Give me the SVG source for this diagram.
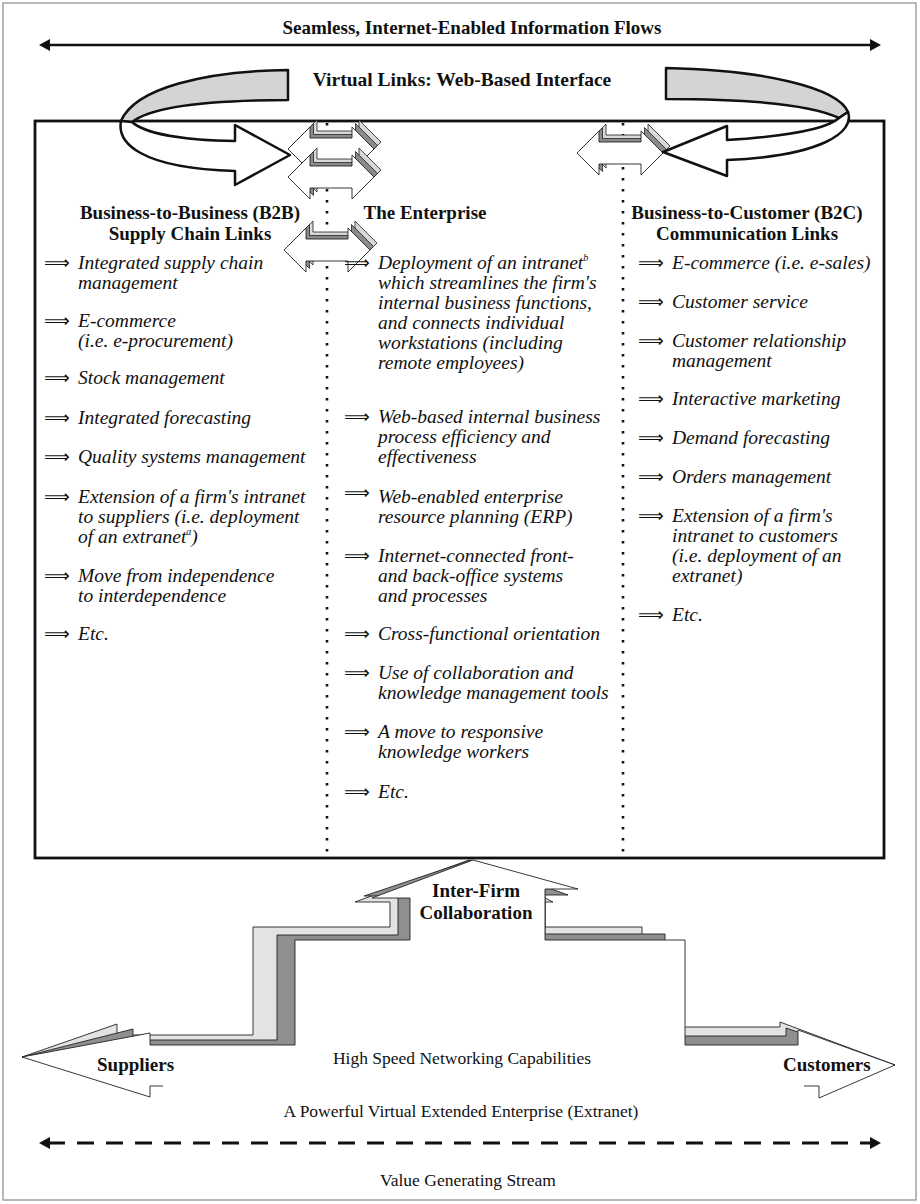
<svg xmlns="http://www.w3.org/2000/svg" width="920" height="1204" viewBox="0 0 920 1204">
<style>
  .t { font-family: "Liberation Serif", "Times New Roman", serif; fill: #111; }
  .b { font-weight: bold; font-size: 19px; }
  .i { font-style: italic; font-size: 19.5px; }
  .r { font-size: 17.5px; }
  .c { text-anchor: middle; }
  .ar { font-family: "DejaVu Sans", sans-serif; font-size: 18px; fill: #111; }
  .sup { font-size: 10px; }
  .rib { stroke: #111; stroke-width: 2.5; stroke-linejoin: round; }
  .dot { stroke: #111; stroke-width: 2.6; stroke-dasharray: 2.6 8.4; fill: none; }
  .lay { stroke: #222; stroke-width: 0.9; stroke-linejoin: miter; }
</style>
<defs>
  <!-- flat double-headed link arrow, centred on the origin -->
  <path id="dbl" d="M-43,0 L-21,-22 L-21,-11 L21,-11 L21,-22 L43,0 L21,22 L21,11 L-21,11 L-21,22 Z"/>
  <!-- the same arrow with two extruded layers behind it -->
  <g id="dbl3">
    <use href="#dbl" x="7" y="-7" fill="#d8d8d8" stroke="#222" stroke-width="0.8"/>
    <use href="#dbl" x="3.5" y="-3.5" fill="#8a8a8a" stroke="#222" stroke-width="0.8"/>
    <use href="#dbl" fill="#fff" stroke="#222" stroke-width="0.9"/>
  </g>
  <marker id="tri" viewBox="0 0 12 12" refX="2" refY="6" markerWidth="12" markerHeight="12" orient="auto-start-reverse" markerUnits="userSpaceOnUse">
    <path d="M0,0 L11,6 L0,12 Z" fill="#111"/>
  </marker>
</defs>

<rect width="920" height="1204" fill="#fff"/>
<rect id="frame" x="3" y="3" width="913" height="1197" fill="none" stroke="#8a8a8a" stroke-width="1.2"/>

<!-- headings above the enterprise box -->
<g id="flows-title">
  <text class="t b c" x="472" y="34">Seamless, Internet-Enabled Information Flows</text>
</g>
<g id="virtual-links-title">
  <text class="t b c" x="462" y="86" style="font-size:19.5px">Virtual Links: Web-Based Interface</text>
</g>

<!-- enterprise box -->
<g id="enterprise-box">
  <rect x="35" y="121" width="849" height="737" fill="none" stroke="#111" stroke-width="2.8"/>
</g>

<g id="connectors">
  <!-- information flow arrow -->
  <line x1="48" y1="45" x2="872" y2="45" stroke="#111" stroke-width="2.5" marker-start="url(#tri)" marker-end="url(#tri)"/>
  <!-- column separators -->
  <line class="dot" x1="327" y1="123" x2="327" y2="856"/>
  <line class="dot" x1="623" y1="123" x2="623" y2="856"/>
  <!-- value stream arrow -->
  <line x1="48" y1="1143" x2="872" y2="1143" stroke="#111" stroke-width="3" stroke-dasharray="17 12" marker-start="url(#tri)" marker-end="url(#tri)"/>
</g>

<!-- small link arrows on the separators -->
<g id="link-arrows">
  <use href="#dbl3" transform="translate(331,149)"/>
  <use href="#dbl3" transform="translate(331,177)"/>
  <use href="#dbl3" transform="translate(327,250)"/>
  <use href="#dbl3" transform="translate(620,153)"/>
</g>

<!-- curved ribbon arrows of the web-based interface -->
<g id="ribbon-left">
  <path class="rib" fill="#d4d4d4" d="M288,70 C205,71 135,88 121,121 L132,122 C152,106 210,100 288,100 Z"/>
  <path class="rib" fill="#fff" d="M121,121 C117,142 138,168 235,171 L235,185 L290,155 L235,125 L235,141 C185,140 145,134 132,122 Z"/>
</g>
<g id="ribbon-right">
  <path class="rib" fill="#d4d4d4" d="M666,68 C765,70 838,88 848,112 L839,118 C810,104 750,99 666,99 Z"/>
  <path class="rib" fill="#fff" d="M848,112 C855,132 822,156 727,160 L727,176 L663,152 L727,126 L727,140 C790,136 828,128 839,118 Z"/>
</g>

<!-- column headings -->
<g id="b2b-heading">
  <text class="t b c" x="190" y="219">Business-to-Business (B2B)</text>
  <text class="t b c" x="190" y="240">Supply Chain Links</text>
</g>
<g id="enterprise-heading">
  <text class="t b c" x="425" y="219">The Enterprise</text>
</g>
<g id="b2c-heading">
  <text class="t b c" x="747" y="219">Business-to-Customer (B2C)</text>
  <text class="t b c" x="747" y="240">Communication Links</text>
</g>

<!-- B2B items -->
<g id="b2b-items">
  <text class="ar" x="44" y="269">⟹</text>
  <text class="t i" x="78" y="269">Integrated supply chain</text>
  <text class="t i" x="78" y="289">management</text>
  <text class="ar" x="44" y="327">⟹</text>
  <text class="t i" x="78" y="327">E-commerce</text>
  <text class="t i" x="78" y="347">(i.e. e-procurement)</text>
  <text class="ar" x="44" y="384">⟹</text>
  <text class="t i" x="78" y="384">Stock management</text>
  <text class="ar" x="44" y="424">⟹</text>
  <text class="t i" x="78" y="424">Integrated forecasting</text>
  <text class="ar" x="44" y="463">⟹</text>
  <text class="t i" x="78" y="463">Quality systems management</text>
  <text class="ar" x="44" y="503">⟹</text>
  <text class="t i" x="78" y="503">Extension of a firm's intranet</text>
  <text class="t i" x="78" y="523">to suppliers (i.e. deployment</text>
  <text class="t i" x="78" y="543">of an extranet<tspan class="sup" dy="-8">a</tspan><tspan dy="8">)</tspan></text>
  <text class="ar" x="44" y="582">⟹</text>
  <text class="t i" x="78" y="582">Move from independence</text>
  <text class="t i" x="78" y="602">to interdependence</text>
  <text class="ar" x="44" y="640">⟹</text>
  <text class="t i" x="78" y="640">Etc.</text>
</g>

<!-- enterprise items -->
<g id="enterprise-items">
  <text class="ar" x="344" y="269">⟹</text>
  <text class="t i" x="378" y="269">Deployment of an intranet<tspan class="sup" dy="-8">b</tspan></text>
  <text class="t i" x="378" y="289">which streamlines the firm's</text>
  <text class="t i" x="378" y="309">internal business functions,</text>
  <text class="t i" x="378" y="329">and connects individual</text>
  <text class="t i" x="378" y="349">workstations (including</text>
  <text class="t i" x="378" y="369">remote employees)</text>
  <text class="ar" x="344" y="423">⟹</text>
  <text class="t i" x="378" y="423">Web-based internal business</text>
  <text class="t i" x="378" y="443">process efficiency and</text>
  <text class="t i" x="378" y="463">effectiveness</text>
  <text class="ar" x="344" y="499">⟹</text>
  <text class="t i" x="378" y="503">Web-enabled enterprise</text>
  <text class="t i" x="378" y="523">resource planning (ERP)</text>
  <text class="ar" x="344" y="562">⟹</text>
  <text class="t i" x="378" y="562">Internet-connected front-</text>
  <text class="t i" x="378" y="582">and back-office systems</text>
  <text class="t i" x="378" y="602">and processes</text>
  <text class="ar" x="344" y="640">⟹</text>
  <text class="t i" x="378" y="640">Cross-functional orientation</text>
  <text class="ar" x="344" y="679">⟹</text>
  <text class="t i" x="378" y="679">Use of collaboration and</text>
  <text class="t i" x="378" y="699">knowledge management tools</text>
  <text class="ar" x="344" y="738">⟹</text>
  <text class="t i" x="378" y="738">A move to responsive</text>
  <text class="t i" x="378" y="758">knowledge workers</text>
  <text class="ar" x="344" y="798">⟹</text>
  <text class="t i" x="378" y="798">Etc.</text>
</g>

<!-- B2C items -->
<g id="b2c-items">
  <text class="ar" x="638" y="269">⟹</text>
  <text class="t i" x="672" y="269">E-commerce (i.e. e-sales)</text>
  <text class="ar" x="638" y="308">⟹</text>
  <text class="t i" x="672" y="308">Customer service</text>
  <text class="ar" x="638" y="347">⟹</text>
  <text class="t i" x="672" y="347">Customer relationship</text>
  <text class="t i" x="672" y="367">management</text>
  <text class="ar" x="638" y="405">⟹</text>
  <text class="t i" x="672" y="405">Interactive marketing</text>
  <text class="ar" x="638" y="444">⟹</text>
  <text class="t i" x="672" y="444">Demand forecasting</text>
  <text class="ar" x="638" y="483">⟹</text>
  <text class="t i" x="672" y="483">Orders management</text>
  <text class="ar" x="638" y="522">⟹</text>
  <text class="t i" x="672" y="522">Extension of a firm's</text>
  <text class="t i" x="672" y="542">intranet to customers</text>
  <text class="t i" x="672" y="562">(i.e. deployment of an</text>
  <text class="t i" x="672" y="582">extranet)</text>
  <text class="ar" x="638" y="621">⟹</text>
  <text class="t i" x="672" y="621">Etc.</text>
</g>

<!-- extended enterprise: stepped 3-D arrow linking suppliers, firm and customers -->
<g id="extended-enterprise">
  <path class="lay" fill="#e3e3e3" d="M22,1057 L117,1024 L117,1035 L253,1035 L253,927 L390,927 L390,902 L355,902 L469,860 L553,902 L545,902 L545,927 L642,927 L642,1027 L780,1027 L780,1022 L895,1065 L819,1080 L150,1080 Z"/>
  <path class="lay" fill="#8f8f8f" d="M22,1057 L133,1029 L133,1040 L277,1040 L277,935 L398,935 L398,896 L364,896 L471,860 L568,895 L545,895 L545,934 L665,934 L665,1036 L786,1036 L786,1028 L895,1065 L819,1080 L150,1080 Z"/>
  <path fill="#fff" d="M22,1057 L150,1033 L150,1045 L295,1045 L295,940 L410,940 L410,898 L372,898 L473,860 L578,889 L545,889 L545,940 L685,940 L685,1045 L798,1045 L798,1030 L895,1065 L819,1098 L819,1086 L150,1086 L150,1097 Z"/>
  <path class="lay" fill="none" d="M163,1086 L150,1086 L150,1097 L22,1057 L150,1033 L150,1045 L295,1045 L295,940 L410,940 L410,898 L372,898 L473,860 L578,889 L545,889 L545,940 L685,940 L685,1045 L798,1045 L798,1030 L895,1065 L819,1098 L819,1086 L804,1086"/>
  <text class="t b c" x="476" y="897">Inter-Firm</text>
  <text class="t b c" x="476" y="919">Collaboration</text>
</g>

<g id="suppliers">
  <text class="t b" x="97" y="1071">Suppliers</text>
</g>
<g id="customers">
  <text class="t b" x="783" y="1071">Customers</text>
</g>

<g id="bottom-captions">
  <text class="t r c" x="462" y="1064">High Speed Networking Capabilities</text>
  <text class="t r c" x="461" y="1117">A Powerful Virtual Extended Enterprise (Extranet)</text>
  <text class="t r c" x="468" y="1186">Value Generating Stream</text>
</g>
</svg>
